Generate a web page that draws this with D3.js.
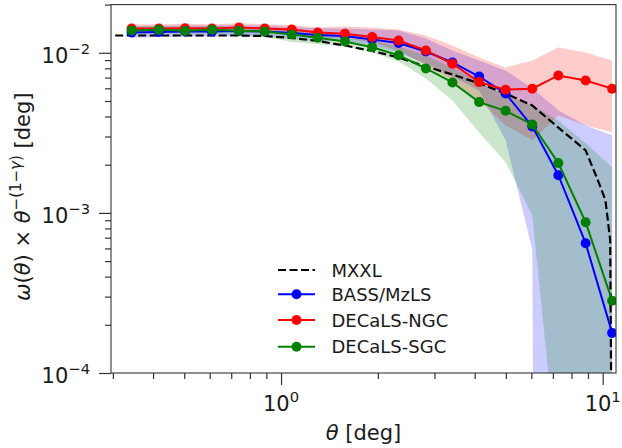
<!DOCTYPE html>
<html><head><meta charset="utf-8">
<script src="https://cdn.jsdelivr.net/npm/d3@7"></script>
<style>
body{margin:0;background:#fff}
text{font-family:"DejaVu Sans",sans-serif;fill:#1a1a1a}
</style>
</head><body>
<svg id="c" width="622" height="448"></svg>
<script>
// ---- data ----
const theta = [0.343,0.417,0.503,0.610,0.740,0.890,1.08,1.30,1.58,1.92,2.32,2.82,3.41,4.13,4.99,6.04,7.28,8.85,10.7];

const bass   = [0.01339,0.01348,0.01358,0.01358,0.01367,0.01358,0.01329,0.01291,0.01273,0.01210,0.01151,0.01019,0.00870,0.00711,0.00557,0.00347,0.00172,0.000647,0.000178];
const bassHi = [0.0146,0.0147,0.0148,0.0148,0.0149,0.0148,0.0145,0.0142,0.01418,0.0140,0.01377,0.01228,0.01034,0.00895,0.00776,0.0060,0.00437,0.00352,0.00305];
const bassLo = [0.0124,0.0125,0.0126,0.0126,0.0127,0.0126,0.0122,0.0118,0.01193,0.0111,0.01004,0.00858,0.0071,0.00582,0.00284,0.00059,1e-30,1e-30,1e-30];

const ngc   = [0.01418,0.01418,0.01424,0.01418,0.01438,0.01418,0.01397,0.01339,0.01314,0.01254,0.01193,0.01034,0.00854,0.00656,0.00588,0.00597,0.00722,0.00672,0.00597];
const ngcHi = [0.0151,0.0151,0.0152,0.0151,0.0153,0.0151,0.0149,0.0144,0.01459,0.0144,0.01397,0.01282,0.0111,0.00935,0.0081,0.00895,0.01079,0.01004,0.00895];
const ngcLo = [0.0134,0.0134,0.0135,0.0134,0.0136,0.0134,0.0131,0.0125,0.01240,0.01160,0.01034,0.00833,0.00672,0.00504,0.00352,0.00284,0.00406,0.00352,0.00319];

const sgc   = [0.01377,0.01391,0.01371,0.01391,0.01371,0.01358,0.0130,0.01240,0.01176,0.01084,0.00966,0.00798,0.00653,0.00492,0.00434,0.00357,0.00205,0.000875,0.000283];
const sgcHi = [0.0146,0.0147,0.0145,0.0147,0.0145,0.0144,0.0139,0.0134,0.01264,0.01193,0.01093,0.00962,0.0081,0.00653,0.00542,0.00469,0.00378,0.00272,0.00193];
const sgcLo = [0.0129,0.0131,0.0129,0.0131,0.0128,0.0126,0.0117,0.0113,0.01093,0.01004,0.00883,0.00691,0.00504,0.00318,0.00207,0.00097,0.000024,0.00001,0.00001];

const mxxlTheta = [0.305,0.5,0.74,0.89,1.08,1.30,1.58,1.92,2.32,2.82,3.41,4.13,4.99,6.04,7.28,8.85,9.6,10.2,10.55,10.7];
const mxxl      = [0.01282,0.01282,0.01282,0.01273,0.01237,0.01185,0.0111,0.01026,0.00935,0.00821,0.00732,0.00644,0.00557,0.00469,0.00341,0.00246,0.00165,0.00120,0.000676,0.00001];

const xMajor = [1,10];
const xMajorExp = ["0","1"];
const xMinor = [0.3,0.4,0.5,0.6,0.7,0.8,0.9,2,3,4,5,6,7,8,9];
const yMajor = [1e-4,1e-3,1e-2];
const yMajorExp = ["\u22124","\u22123","\u22122"];
const yMinor = [2e-4,3e-4,4e-4,5e-4,6e-4,7e-4,8e-4,9e-4,2e-3,3e-3,4e-3,5e-3,6e-3,7e-3,8e-3,9e-3,2e-2];

const series = [
  {name:"BASS/MzLS",  color:"#0000ff", v:bass, lo:bassLo, hi:bassHi},
  {name:"DECaLS-NGC", color:"#ff0000", v:ngc,  lo:ngcLo,  hi:ngcHi},
  {name:"DECaLS-SGC", color:"#008000", v:sgc,  lo:sgcLo,  hi:sgcHi}
];

// ---- layout ----
const L=111, R=616, T=4.6, B=373;
const svg = d3.select("#c");
const x = d3.scaleLog().domain([0.296,11.0]).range([L,R]);
const y = d3.scaleLog().domain([1e-4,2e-2]).range([B,T]);

svg.append("defs").append("clipPath").attr("id","clip")
  .append("rect").attr("x",L).attr("y",T).attr("width",R-L).attr("height",B-T);

const plot = svg.append("g").attr("clip-path","url(#clip)");

// fills
series.forEach(s=>{
  const area = d3.area()
    .x((d,i)=>x(theta[i]))
    .y0((d,i)=>y(s.lo[i]))
    .y1((d,i)=>y(s.hi[i]));
  plot.append("path").datum(theta).attr("d",area)
    .attr("fill",s.color).attr("fill-opacity",0.2).attr("stroke","none");
});

// MXXL dashed
const lineM = d3.line().x((d,i)=>x(mxxlTheta[i])).y(d=>y(d));
plot.append("path").datum(mxxl).attr("d",lineM)
  .attr("fill","none").attr("stroke","#000").attr("stroke-width",2.2)
  .attr("stroke-dasharray","8,3.5");

// series lines + markers
series.forEach(s=>{
  const line = d3.line().x((d,i)=>x(theta[i])).y(d=>y(d));
  plot.append("path").datum(s.v).attr("d",line)
    .attr("fill","none").attr("stroke",s.color).attr("stroke-width",2);
  plot.selectAll(null).data(s.v).enter().append("circle")
    .attr("cx",(d,i)=>x(theta[i])).attr("cy",d=>y(d)).attr("r",5)
    .attr("fill",s.color);
});

// frame
svg.append("rect").attr("x",L).attr("y",T).attr("width",R-L).attr("height",B-T)
  .attr("fill","none").attr("stroke","#333").attr("stroke-width",1.1);

// axes ticks via d3 axes
const axB = svg.append("g").attr("transform",`translate(0,${B})`);
axB.call(d3.axisBottom(x).tickValues(xMajor).tickSize(12).tickFormat(""));
const axBm = svg.append("g").attr("transform",`translate(0,${B})`);
axBm.call(d3.axisBottom(x).tickValues(xMinor).tickSize(6).tickFormat(""));
const axL = svg.append("g").attr("transform",`translate(${L},0)`);
axL.call(d3.axisLeft(y).tickValues(yMajor).tickSize(12).tickFormat(""));
const axLm = svg.append("g").attr("transform",`translate(${L},0)`);
axLm.call(d3.axisLeft(y).tickValues(yMinor).tickSize(6).tickFormat(""));
svg.selectAll(".domain").remove();
svg.selectAll(".tick line").attr("stroke","#333").attr("stroke-width",1.2);

// tick labels
const FS = 21;
xMajor.forEach((v,i)=>{
  const t = svg.append("text").attr("x",x(v)).attr("y",411).attr("text-anchor","middle")
    .style("font-size",FS+"px");
  t.append("tspan").text("10");
  t.append("tspan").attr("dy",-9).style("font-size",(FS*0.7)+"px").text(xMajorExp[i]);
});
yMajor.forEach((v,i)=>{
  const t = svg.append("text").attr("x",90).attr("y",y(v)+10).attr("text-anchor","end")
    .style("font-size",FS+"px");
  t.append("tspan").text("10");
  t.append("tspan").attr("dy",-9).style("font-size",(FS*0.7)+"px").text(yMajorExp[i]);
});

// axis labels
const xl = svg.append("text").attr("x",(L+R)/2).attr("y",440).attr("text-anchor","middle")
  .style("font-size","21px");
xl.append("tspan").style("font-style","italic").text("\u03b8");
xl.append("tspan").text(" [deg]");

const yl = svg.append("text").attr("transform",`translate(30,${(T+B)/2+8}) rotate(-90)`)
  .attr("text-anchor","middle").style("font-size","21px");
yl.append("tspan").style("font-style","italic").text("\u03c9");
yl.append("tspan").text("(");
yl.append("tspan").style("font-style","italic").text("\u03b8");
yl.append("tspan").text(") \u00d7 ");
yl.append("tspan").style("font-style","italic").text("\u03b8");
yl.append("tspan").attr("dy",-9).style("font-size","15px").text("\u2212(1\u2212");
yl.append("tspan").style("font-size","15px").style("font-style","italic").text("\u03b3");
yl.append("tspan").style("font-size","15px").text(")");
yl.append("tspan").attr("dy",9).text(" [deg]");

// legend
const legY = [270,294.3,320,346.7];
const lg = svg.append("g");
lg.append("line").attr("x1",278).attr("x2",315).attr("y1",legY[0]).attr("y2",legY[0])
  .attr("stroke","#000").attr("stroke-width",2.2).attr("stroke-dasharray","8,3.5");
lg.append("text").attr("x",331.5).attr("y",legY[0]+6.5).style("font-size","18px").text("MXXL");
series.forEach((s,i)=>{
  const yy = legY[i+1];
  lg.append("line").attr("x1",278).attr("x2",315).attr("y1",yy).attr("y2",yy)
    .attr("stroke",s.color).attr("stroke-width",2);
  lg.append("circle").attr("cx",296.5).attr("cy",yy).attr("r",5).attr("fill",s.color);
  lg.append("text").attr("x",331.5).attr("y",yy+6.5).style("font-size","18px").text(s.name);
});
</script>
</body></html>
